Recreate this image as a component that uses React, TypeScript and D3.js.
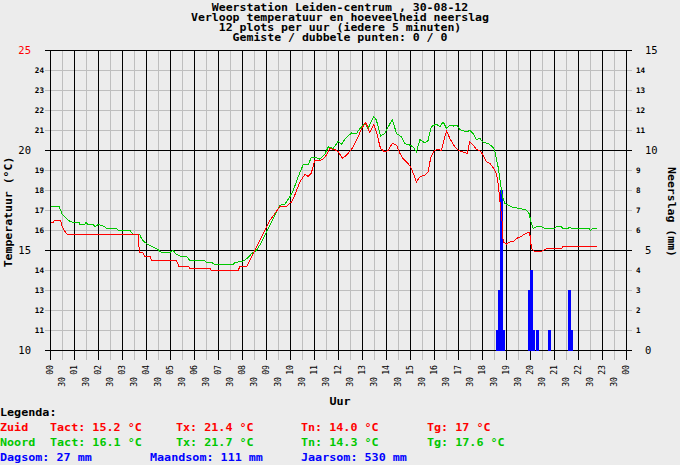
import React from "react";
import * as d3 from "d3";

// ---------- data ----------
const titleLines = [
  "Weerstation Leiden-centrum , 30-08-12",
  "Verloop temperatuur en hoeveelheid neerslag",
  "12 plots per uur (iedere 5 minuten)",
  "Gemiste / dubbele punten: 0 / 0",
];

const hourTicks = d3.range(0, 25);
const hourLabels = hourTicks.map((h) => String(h % 24).padStart(2, "0"));
const halfHourTicks = d3.range(0, 24).map((h) => h + 0.5);
const tempTicks = d3.range(10, 26);
const rainTicks = d3.range(0, 16);

// Zuid (red) temperature, hour of day -> °C
const zuidHours = [
  0.0, 0.12, 0.15, 0.42, 0.49, 0.57, 0.7, 3.66, 3.7, 3.85, 3.93, 4.15, 4.21, 5.25, 5.35, 5.75,
  5.81, 6.64, 6.71, 7.82, 7.89, 8.17, 8.31, 8.51, 8.72, 8.93, 9.14, 9.35, 9.56, 9.83, 10.04,
  10.18, 10.39, 10.6, 10.74, 10.87, 11.01, 11.22, 11.35, 11.5, 11.64, 11.85, 11.99, 12.17, 12.4,
  12.61, 12.82, 12.96, 13.14, 13.3, 13.47, 13.58, 13.75, 13.93, 14.07, 14.24, 14.42, 14.56,
  14.69, 14.9, 15.04, 15.25, 15.39, 15.6, 15.73, 15.85, 15.99, 16.15, 16.29, 16.39, 16.5, 16.64,
  16.85, 16.99, 17.19, 17.36, 17.47, 17.61, 17.75, 17.89, 18.03, 18.17, 18.31, 18.47, 18.58,
  18.65, 18.69, 18.83, 18.86, 18.99, 19.14, 19.28, 19.42, 19.63, 19.76, 19.94, 19.97, 20.04,
  20.18, 20.39, 20.53, 20.67, 21.29, 21.36, 22.75,
];
const zuidTemps = [
  16.4, 16.4, 16.5, 16.5, 16.2, 16.0, 15.8, 15.8, 14.9, 14.9, 14.7, 14.7, 14.5, 14.5, 14.2, 14.2,
  14.1, 14.1, 14.0, 14.0, 14.2, 14.2, 14.5, 15.0, 15.5, 16.0, 16.5, 16.85, 17.2, 17.2, 17.43,
  17.77, 18.43, 18.8, 18.7, 18.88, 19.5, 19.5, 19.57, 19.77, 20.1, 20.05, 19.93, 19.6, 19.85,
  20.18, 20.68, 21.1, 21.4, 20.9, 21.32, 20.93, 20.1, 19.93, 20.0, 20.35, 20.27, 19.85,
  19.6, 19.35, 19.1, 18.43, 18.68, 18.77, 18.93, 19.68, 20.0, 20.05, 20.0, 20.5, 20.98, 20.6,
  20.18, 20.0, 19.93, 19.85, 20.43, 20.27, 20.05, 20.0, 19.77, 19.43, 19.35, 19.1, 18.85,
  18.35, 17.88, 16.3, 15.43, 15.32, 15.43, 15.43, 15.6, 15.72, 15.82, 15.93, 15.85, 15.1,
  14.93, 14.93, 15.0, 15.1, 15.1, 15.2, 15.2,
];

// Noord (green) temperature, hour of day -> °C
const noordHours = [
  0.0, 0.36, 0.49, 0.74, 0.94, 1.19, 1.22, 1.43, 1.47, 1.57, 1.78, 1.85, 1.99, 2.26, 2.33, 2.75,
  2.82, 3.31, 3.38, 3.44, 3.72, 3.79, 3.93, 4.07, 4.21, 4.42, 4.62, 4.97, 5.11, 5.25, 5.46, 5.67,
  5.81, 6.43, 6.5, 6.71, 6.85, 7.61, 7.68, 8.03, 8.24, 8.38, 8.58, 8.72, 8.93, 9.14, 9.35, 9.56,
  9.76, 9.97, 10.11, 10.32, 10.53, 10.74, 10.87, 11.01, 11.22, 11.43, 11.57, 11.78, 11.99, 12.12,
  12.26, 12.54, 12.75, 12.89, 13.1, 13.23, 13.47, 13.58, 13.75, 13.93, 14.07, 14.24, 14.42,
  14.62, 14.76, 14.97, 15.11, 15.25, 15.39, 15.6, 15.73, 15.87, 16.08, 16.22, 16.36, 16.5,
  16.64, 16.78, 16.92, 17.06, 17.33, 17.47, 17.61, 17.75, 17.89, 18.03, 18.24, 18.42, 18.51,
  18.65, 18.75, 18.83, 18.93, 19.07, 19.21, 19.56, 19.83, 19.94, 20.04, 20.11, 20.25, 20.46,
  20.6, 21.01, 21.08, 21.29, 21.36, 21.57, 21.64, 21.71, 22.45, 22.5, 22.58, 22.75,
];
const noordTemps = [
  17.2, 17.2, 16.8, 16.5, 16.4, 16.4, 16.3, 16.3, 16.4, 16.3, 16.3, 16.2, 16.3, 16.2, 16.1, 16.1,
  16.0, 16.0, 15.9, 15.8, 15.8, 15.6, 15.4, 15.3, 15.2, 15.1, 14.9, 14.9, 15.0, 14.8, 14.7, 14.7,
  14.5, 14.5, 14.4, 14.4, 14.3, 14.3, 14.4, 14.47, 14.65, 14.85, 15.0, 15.27, 15.77, 16.27, 16.77,
  17.27, 17.3, 17.68, 18.0, 18.68, 19.3, 19.3, 19.65, 19.67, 19.57, 19.82, 20.18, 20.1, 20.47,
  20.3, 20.55, 20.88, 20.85, 21.1, 21.35, 21.1, 21.7, 21.52, 20.72, 20.85, 21.18, 21.55, 20.85,
  20.68, 20.35, 20.27, 20.18, 19.93, 20.55, 20.38, 20.5, 21.2, 21.32, 21.18, 21.43, 21.1,
  21.27, 21.22, 21.27, 21.05, 20.93, 21.0, 20.85, 20.55, 20.6, 20.4, 20.35, 20.18, 20.0,
  19.18, 18.35, 17.68, 17.35, 17.27, 17.18, 17.1, 17.02, 16.85, 16.35, 16.1, 16.18, 16.18,
  16.1, 16.1, 16.18, 16.18, 16.1, 16.1, 16.18, 16.1, 16.1, 16.0, 16.1, 16.1,
];

// Rain per 5 minutes (end time of interval) in mm
const rainTimes = ["18:40", "18:45", "18:50", "18:55", "20:00", "20:05", "20:10", "20:20", "20:50", "21:40", "21:45"];
const rainMm = [1, 3, 8, 1, 3, 4, 1, 1, 1, 3, 1];

// Legend
const legendNames = ["Zuid", "Noord"];
const legendTact = ["15.2", "16.1"];
const legendTx = ["21.4", "21.7"];
const legendTn = ["14.0", "14.3"];
const legendTg = ["17", "17.6"];
const rainSums = [
  ["Dagsom", "27"],
  ["Maandsom", "111"],
  ["Jaarsom", "530"],
];

// ---------- styling ----------
const BG = "#ececec";
const GRID = "#bebebe";
const RED = "#ff0000";
const GREEN = "#00c800";
const BLUE = "#0000ff";
const MONO = "'DejaVu Sans Mono', 'Liberation Mono', monospace";

const W = 680;
const H = 465;
const left = 50.5;
const right = 626.5;
const top = 50.5;
const bottom = 350.5;

export default function App() {
  const x = d3.scaleLinear().domain([0, 24]).range([left, right]);
  const yT = d3.scaleLinear().domain([10, 25]).range([bottom, top]);
  const yR = d3.scaleLinear().domain([0, 15]).range([bottom, top]);

  const line = d3
    .line<[number, number]>()
    .x((d) => x(d[0]))
    .y((d) => yT(d[1]));

  const zuid = zuidHours.map((h, i) => [h, zuidTemps[i]] as [number, number]);
  const noord = noordHours.map((h, i) => [h, noordTemps[i]] as [number, number]);

  const parseHM = (s: string) => {
    const [hh, mm] = s.split(":").map(Number);
    return hh + mm / 60;
  };

  const legendColors = [RED, GREEN];
  const legendY = [430.5, 445.5];

  return (
    <svg
      width={W}
      height={H}
      style={{ position: "absolute", left: 0, top: 0, background: BG }}
      fontFamily={MONO}
    >
      <rect x={0} y={0} width={W} height={H} fill={BG} />

      {/* title */}
      {titleLines.map((t, i) => (
        <text
          key={t}
          transform={`translate(340,${10.5 + i * 10}) scale(1.2,1)`}
          textAnchor="middle"
          fontSize={9.6}
          fontWeight="bold"
          fill="#000"
        >
          {t}
        </text>
      ))}

      {/* grid */}
      <g shapeRendering="crispEdges">
        {tempTicks.map((t) => (
          <line
            key={"h" + t}
            x1={45}
            x2={632}
            y1={yT(t)}
            y2={yT(t)}
            stroke={t % 5 === 0 ? "#000" : GRID}
          />
        ))}
        {halfHourTicks.map((h) => (
          <line key={"v" + h} x1={x(h)} x2={x(h)} y1={top} y2={360} stroke={GRID} />
        ))}
        {hourTicks.map((h) => (
          <line key={"V" + h} x1={x(h)} x2={x(h)} y1={top} y2={360} stroke="#000" />
        ))}
        {tempTicks
          .filter((t) => t % 5 === 0)
          .map((t) => (
            <line key={"m" + t} x1={45} x2={632} y1={yT(t)} y2={yT(t)} stroke="#000" />
          ))}
      </g>

      {/* rain bars */}
      <g shapeRendering="crispEdges">
        {rainTimes.map((s, i) => {
          const t = parseHM(s);
          const x0 = x(t - 5 / 60) - 0.5;
          const x1 = x(t) + 0.5;
          return (
            <rect
              key={s}
              x={x0}
              y={yR(rainMm[i]) - 0.5}
              width={x1 - x0}
              height={yR(0) - yR(rainMm[i]) + 0.5}
              fill={BLUE}
            />
          );
        })}
      </g>

      {/* temperature lines */}
      <path d={line(noord) || ""} fill="none" stroke={GREEN} strokeWidth={1} shapeRendering="crispEdges" />
      <path d={line(zuid) || ""} fill="none" stroke={RED} strokeWidth={1} shapeRendering="crispEdges" />

      {/* left axis labels */}
      {tempTicks.map((t) =>
        t % 5 === 0 ? (
          <text
            key={"lt" + t}
            x={31}
            y={yT(t)}
            dy="0.36em"
            textAnchor="end"
            fontSize={10.5}
            fill={t === 25 ? RED : "#000"}
          >
            {t}
          </text>
        ) : (
          <text
            key={"lt" + t}
            x={44}
            y={yT(t)}
            dy="0.36em"
            textAnchor="end"
            fontSize={7.6}
            fontWeight="bold"
            fill="#000"
          >
            {t}
          </text>
        )
      )}

      {/* right axis labels */}
      {rainTicks.map((r) =>
        r % 5 === 0 ? (
          <text key={"rt" + r} x={645} y={yR(r)} dy="0.36em" fontSize={10.5} fill="#000">
            {r}
          </text>
        ) : (
          <text
            key={"rt" + r}
            x={636}
            y={yR(r)}
            dy="0.36em"
            fontSize={7.6}
            fontWeight="bold"
            fill="#000"
          >
            {r}
          </text>
        )
      )}

      {/* x axis labels */}
      {hourTicks.map((h, i) => (
        <text
          key={"xl" + h}
          transform={`translate(${x(h)},365) rotate(-90)`}
          textAnchor="end"
          dy="0.36em"
          fontSize={8.2}
          fill="#000"
        >
          {hourLabels[i]}
        </text>
      ))}
      {halfHourTicks.map((h) => (
        <text
          key={"xh" + h}
          transform={`translate(${x(h)},377) rotate(-90)`}
          textAnchor="end"
          dy="0.36em"
          fontSize={8.2}
          fill="#000"
        >
          30
        </text>
      ))}

      {/* axis titles */}
      <text transform="translate(340,405) scale(1.2,1)" textAnchor="middle" fontSize={9.8} fontWeight="bold">
        Uur
      </text>
      <text
        transform="translate(8,212) rotate(-90) scale(1.15,1)"
        textAnchor="middle"
        dy="0.36em"
        fontSize={10}
        fontWeight="bold"
      >
        Temperatuur (°C)
      </text>
      <text
        transform="translate(672,212) rotate(90) scale(1.15,1)"
        textAnchor="middle"
        dy="0.36em"
        fontSize={10}
        fontWeight="bold"
      >
        Neerslag (mm)
      </text>

      {/* legend */}
      <text transform="translate(0,415.5) scale(1.15,1)" fontSize={10.2} fontWeight="bold">
        Legenda:
      </text>
      {legendNames.map((n, i) => (
        <g key={n} fill={legendColors[i]} fontSize={10.2} fontWeight="bold">
          <text transform={`translate(0,${legendY[i]}) scale(1.15,1)`}>{n}</text>
          <text transform={`translate(50,${legendY[i]}) scale(1.15,1)`}>{`Tact: ${legendTact[i]} °C`}</text>
          <text transform={`translate(176,${legendY[i]}) scale(1.15,1)`}>{`Tx: ${legendTx[i]} °C`}</text>
          <text transform={`translate(301,${legendY[i]}) scale(1.15,1)`}>{`Tn: ${legendTn[i]} °C`}</text>
          <text transform={`translate(427,${legendY[i]}) scale(1.15,1)`}>{`Tg: ${legendTg[i]} °C`}</text>
        </g>
      ))}
      {rainSums.map(([k, v], i) => (
        <text
          key={k}
          transform={`translate(${[0, 150, 301][i]},460.5) scale(1.15,1)`}
          fontSize={10.2}
          fontWeight="bold"
          fill={BLUE}
        >
          {`${k}: ${v} mm`}
        </text>
      ))}
    </svg>
  );
}
